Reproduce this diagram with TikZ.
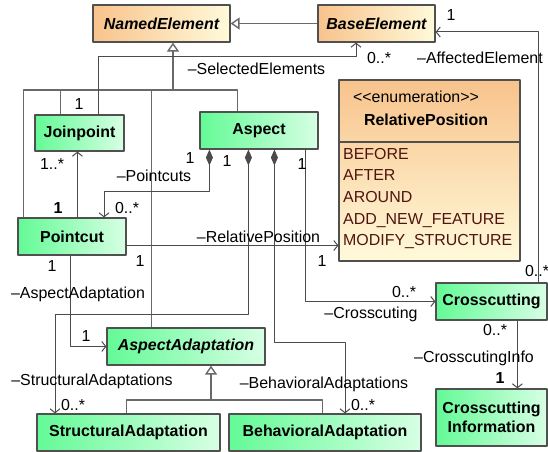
\documentclass[tikz,border=0pt]{standalone}
\usepackage{fontspec}
\setmainfont{Liberation Sans}
\usepackage{tikz}
\usetikzlibrary{arrows.meta,positioning}

\definecolor{boxline}{RGB}{80,80,80}
\definecolor{lineassoc}{RGB}{75,75,75}
\definecolor{linegen}{RGB}{105,105,105}
\definecolor{greenA}{RGB}{100,250,150}
\definecolor{greenB}{RGB}{215,255,228}
\definecolor{orangeA}{RGB}{248,195,140}
\definecolor{orangeB}{RGB}{255,250,218}
\definecolor{enumtext}{RGB}{80,20,15}

\newcommand{\umlsize}{\fontsize{16}{19}\selectfont}

\tikzset{
  class_green/.style={draw=boxline,line width=1.2bp,inner sep=0pt,left color=greenA,right color=greenB,font=\umlsize\bfseries},
  class_orange/.style={draw=boxline,line width=1.2bp,inner sep=0pt,left color=orangeA,right color=orangeB,font=\umlsize\bfseries\itshape},
  enum_box/.style={draw=boxline,line width=1.2bp,inner sep=0pt,top color=orangeA,bottom color=orangeB},
  role/.style={inner sep=0pt,text height=11.5bp,text depth=0pt,font=\umlsize},
  assoc/.style={draw=lineassoc,line width=1bp,-{Straight Barb[length=4bp,width=10bp]}},
  compos/.style={assoc,{Diamond[length=16bp,width=7bp]}-{Straight Barb[length=4bp,width=10bp]}},
  gener/.style={draw=linegen,line width=1.4bp},
  gen_tip/.style={-{Triangle[open,length=9bp,width=12bp,fill=white]}},
}

\begin{document}
\begin{tikzpicture}[x=1bp,y=-1bp,>=latex,line join=bevel]
\useasboundingbox (0,0) rectangle (548,452);
%%
\node (named_element) at (161.5,23.5) [class_orange,minimum width=137bp,minimum height=37bp] {NamedElement};
  \node (base_element) at (376.5,23.5) [class_orange,minimum width=117bp,minimum height=37bp] {BaseElement};
  \node (joinpoint) at (79.5,133) [class_green,minimum width=89bp,minimum height=36bp] {Joinpoint};
  \node (aspect) at (259,130.5) [class_green,minimum width=118bp,minimum height=37bp] {Aspect};
  \node (relative_position) at (429.5,170.5) [enum_box,minimum width=181bp,minimum height=181bp] {};
  \node (pointcut) at (72,236.5) [class_green,minimum width=108bp,minimum height=37bp] {Pointcut};
  \node (crosscutting) at (491.5,301.5) [class_green,minimum width=111bp,minimum height=37bp] {Crosscutting};
  \node (aspect_adaptation) at (186,346.5) [class_green,font=\umlsize\bfseries\itshape,minimum width=158bp,minimum height=37bp] {AspectAdaptation};
  \node (structural_adaptation) at (128.5,432.5) [class_green,minimum width=183bp,minimum height=37bp] {StructuralAdaptation};
  \node (behavioral_adaptation) at (325,432.5) [class_green,minimum width=192bp,minimum height=37bp] {BehavioralAdaptation};
  \node (crosscutting_info) at (491.5,417.5) [class_green,align=center,minimum width=111bp,minimum height=57bp] {Crosscutting\\Information};
%% enumeration compartments
  \draw [draw=boxline,line width=1.2bp] (relative_position.west |- 0,142) -- (relative_position.east |- 0,142);
  \node (relpos_stereo) at (416,97) [role] {<\kern0pt<enumeration>\kern0pt>};
  \node (relpos_title) at (426,120) [role,font=\umlsize\bfseries] {RelativePosition};
  \node (relpos_literals) at (343,198.5) [anchor=west,align=left,inner sep=0pt,text=enumtext,font=\fontsize{16}{21.6}\selectfont] {BEFORE\\AFTER\\AROUND\\ADD\_NEW\_FEATURE\\MODIFY\_STRUCTURE};
%% generalizations
  \coordinate (gen_top) at (173,90);
  \draw [gener] ([xshift=6bp]pointcut.north west) |- (gen_top);
  \draw [gener] ([xshift=26bp]joinpoint.north west) |- (gen_top);
  \draw [gener] ([xshift=45bp]aspect_adaptation.north west) |- (gen_top);
  \draw [gener] ([xshift=38bp]aspect.north west) |- (gen_top);
  \draw [gener,gen_tip] (gen_top) -- (gen_top |- named_element.south);
  \draw [gener,gen_tip] (base_element.west) -- (named_element.east);
  \coordinate (gen_sub) at (211,400);
  \draw [gener] ([xshift=90bp]structural_adaptation.north west) |- (gen_sub);
  \draw [gener] ([xshift=94bp]behavioral_adaptation.north west) |- (gen_sub);
  \draw [gener,gen_tip] (gen_sub) -- (gen_sub |- aspect_adaptation.south);
%% associations
  \coordinate (sel_bend) at (356,57);
  \draw [assoc] ([xshift=64bp]joinpoint.north west) |- (sel_bend) -- (sel_bend |- base_element.south);
  \coordinate (aff_bend) at (538,32);
  \draw [assoc] (crosscutting.north -| aff_bend) -- (aff_bend) -- (aff_bend -| base_element.east);
  \coordinate (jp_foot) at ([xshift=60bp]pointcut.north west);
  \draw [assoc] (jp_foot) -- (jp_foot |- joinpoint.south);
  \coordinate (pc_bend) at (104,192);
  \draw [compos] ([xshift=10bp]aspect.south west) |- (pc_bend) -- (pc_bend |- pointcut.north);
  \coordinate (sa_bend) at (55,314);
  \draw [compos] ([xshift=49bp]aspect.south west) |- (sa_bend) -- (sa_bend |- structural_adaptation.north);
  \coordinate (ba_bend) at (345,342);
  \draw [compos] ([xshift=75bp]aspect.south west) |- (ba_bend) -- (ba_bend |- behavioral_adaptation.north);
  \draw [assoc] ([xshift=106bp]aspect.south west) |- (crosscutting.west);
  \coordinate (rp_start) at ([yshift=-9bp]pointcut.east);
  \draw [assoc] (rp_start) -- (rp_start -| relative_position.west);
  \draw [assoc] ([xshift=53bp]pointcut.south west) |- (aspect_adaptation.west);
  \coordinate (ci_start) at ([xshift=82bp]crosscutting.south west);
  \draw [assoc] (ci_start) -- (ci_start |- crosscutting_info.north);
%% role names and multiplicities
  \node (lbl_selected) at (256.5,69) [role] {–SelectedElements};
  \node (mul_sel_base) at (379,58) [role] {0..*};
  \node (mul_aff_base) at (451,15) [role] {1};
  \node (lbl_affected) at (480,58) [role] {–AffectedElement};
  \node (mul_sel_join) at (79,104) [role] {1};
  \node (mul_jp_join) at (52,164) [role] {1..*};
  \node (mul_jp_pc) at (58,208) [role,font=\umlsize\bfseries] {1};
  \node (mul_pc_aspect) at (190,158) [role] {1};
  \node (lbl_pointcuts) at (154,176) [role] {–Pointcuts};
  \node (mul_pc_pc) at (127,208) [role] {0..*};
  \node (mul_sa_aspect) at (227,161) [role] {1};
  \node (mul_cc_aspect) at (302,164) [role] {1};
  \node (lbl_relpos) at (258.5,237) [role] {–RelativePosition};
  \node (mul_rp_enum) at (322,261) [role] {1};
  \node (mul_rp_pc) at (140,261) [role] {1};
  \node (mul_aa_pc) at (52,266) [role] {1};
  \node (lbl_aspect_adapt) at (78,293) [role] {–AspectAdaptation};
  \node (mul_aa_adapt) at (86,336) [role] {1};
  \node (lbl_structural) at (92,380) [role] {–StructuralAdaptations};
  \node (mul_sa_struct) at (73,405) [role] {0..*};
  \node (lbl_behavioral) at (324,383) [role] {–BehavioralAdaptations};
  \node (mul_ba_behav) at (363,405) [role] {0..*};
  \node (mul_cc_cross) at (404,292) [role] {0..*};
  \node (lbl_crosscuting) at (371,313) [role] {–Crosscuting};
  \node (mul_aff_cross) at (537,271) [role] {0..*};
  \node (mul_ci_cross) at (495,330) [role] {0..*};
  \node (lbl_cross_info) at (474,357) [role] {–CrosscutingInfo};
  \node (mul_ci_info) at (500,378) [role,font=\umlsize\bfseries] {1};
%
\end{tikzpicture}
\end{document}
